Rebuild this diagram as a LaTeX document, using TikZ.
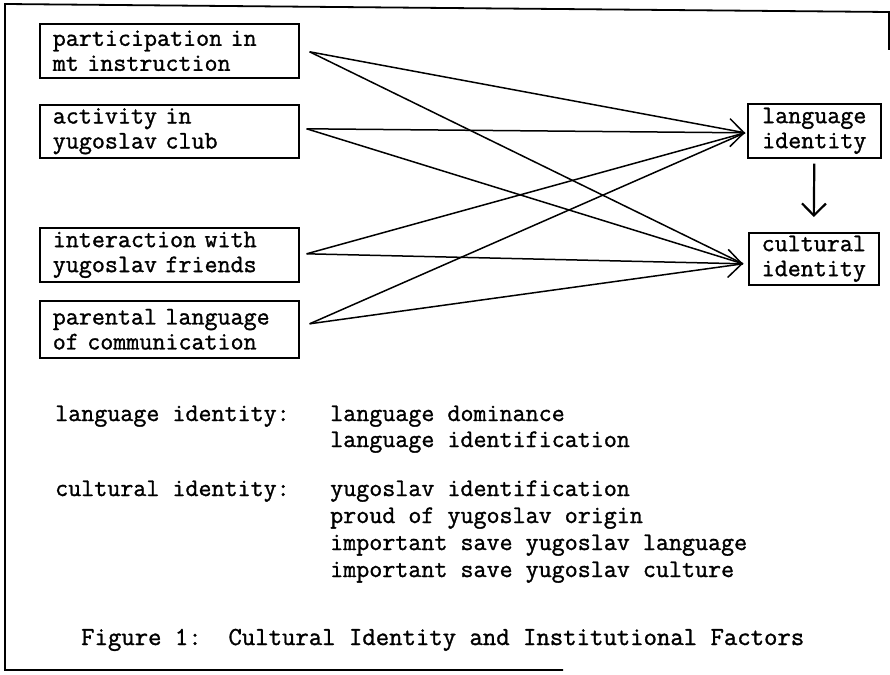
\documentclass[tikz,border=0pt]{standalone}
\usepackage{fontspec}
\newfontfamily\tw{Latin Modern Mono}[FakeBold=1.2]
\usetikzlibrary{arrows.meta,calc}
\begin{document}
\begin{tikzpicture}[x=1pt,y=-1pt,
  txt/.style={font=\tw\fontsize{25.3}{25}\selectfont, inner sep=0pt},
  srcbox/.style={draw, line width=1.6pt, txt, text width=233pt, inner xsep=13pt, inner ysep=0pt, align=left, anchor=north west},
  tgtbox/.style={draw, line width=1.6pt, txt, text width=109pt, inner xsep=12pt, inner ysep=0pt, align=center, anchor=north west},
  conn/.style={line width=1.5pt},
  tip/.style={-{Straight Barb[length=14pt,width=28pt]}},
  frameline/.style={line width=1.8pt}
]
\useasboundingbox (0,0) rectangle (890,674);
% frame
\draw[frameline] (889,50) -- (889,12) -- (5,4) -- (5,670) -- (563,670);
% source boxes
\node[srcbox, minimum height=54pt] (b1) at (39,23) {\mbox{participation in}\\\mbox{mt instruction}};
\node[srcbox, minimum height=53pt] (b2) at (39,104) {\mbox{activity in}\\\mbox{yugoslav club}};
\node[srcbox, minimum height=54pt] (b3) at (39,227) {\mbox{interaction with}\\\mbox{yugoslav friends}};
\node[srcbox, minimum height=57pt] (b4) at (39,300) {\mbox{parental language}\\\mbox{of communication}};
% target boxes
\node[tgtbox, minimum height=54pt] (lang) at (747,103) {language\\identity};
\node[tgtbox, minimum height=52pt, text width=108pt, inner xsep=11pt] (cult) at (748,232) {cultural\\identity};
% connectors
\draw[conn] ([xshift=10pt,yshift=-1pt]b1.east) -- ([xshift=-2pt,yshift=-2pt]lang.west);
\draw[conn] ([xshift=10pt,yshift=-1pt]b1.east) -- ([xshift=-5pt,yshift=-5pt]cult.west);
\draw[conn,tip] ([xshift=7pt,yshift=2.5pt]b2.east) -- ([xshift=-2pt,yshift=-2pt]lang.west);
\draw[conn] ([xshift=7pt,yshift=2.5pt]b2.east) -- ([xshift=-5pt,yshift=-5pt]cult.west);
\draw[conn] ([xshift=7pt,yshift=1pt]b3.east) -- ([xshift=-2pt,yshift=-2pt]lang.west);
\draw[conn,tip] ([xshift=7pt,yshift=1pt]b3.east) -- ([xshift=-5pt,yshift=-5pt]cult.west);
\draw[conn] ([xshift=10pt,yshift=5.5pt]b4.east) -- ([xshift=-2pt,yshift=-2pt]lang.west);
\draw[conn] ([xshift=10pt,yshift=5.5pt]b4.east) -- ([xshift=-5pt,yshift=-5pt]cult.west);
\draw[line width=2.2pt, -{Straight Barb[length=12pt,width=24pt]}] ([yshift=-5pt]lang.south) -- ([yshift=15pt]cult.north);
% legend
\node[txt, anchor=base west] (k1) at (55,421) {language identity:};
\node[txt, anchor=base west] (k1a) at (330,421) {language dominance};
\node[txt, anchor=base west] (k1b) at (330,447) {language identification};
\node[txt, anchor=base west] (k2) at (55,496) {cultural identity:};
\node[txt, anchor=base west] (k2a) at (330,496) {yugoslav identification};
\node[txt, anchor=base west] (k2b) at (330,523) {proud of yugoslav origin};
\node[txt, anchor=base west] (k2c) at (330,550) {important save yugoslav language};
\node[txt, anchor=base west] (k2d) at (330,577) {important save yugoslav culture};
% caption
\node[txt, font=\tw\fontsize{26}{25}\selectfont, anchor=base west] (cap) at (81,645) {Figure 1:\ \ Cultural Identity and Institutional Factors};
\end{tikzpicture}
\end{document}
